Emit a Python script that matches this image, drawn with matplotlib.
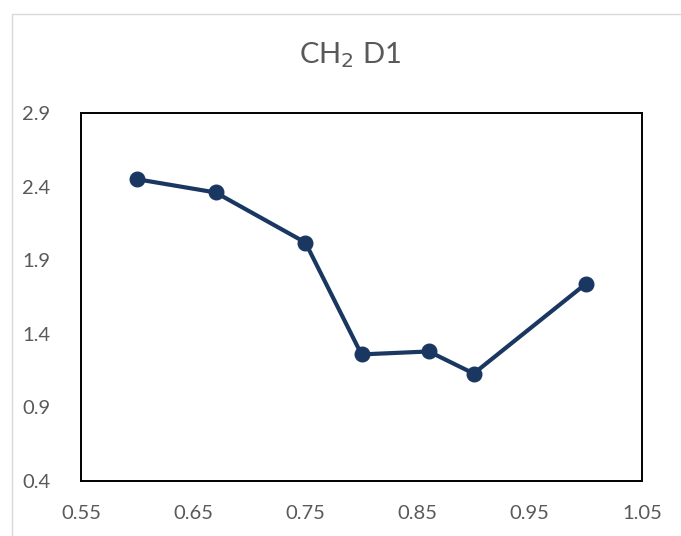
import matplotlib
matplotlib.use("Agg")
import matplotlib.pyplot as plt
from matplotlib.patches import Rectangle

# Series values
x_vals = [0.60, 0.67, 0.75, 0.80, 0.86, 0.90, 1.00]
y_vals = [2.45, 2.36, 2.02, 1.26, 1.28, 1.13, 1.74]

x_ticks = [0.55, 0.65, 0.75, 0.85, 0.95, 1.05]
y_ticks = [0.4, 0.9, 1.4, 1.9, 2.4, 2.9]

plt.rcParams['font.family'] = ['Lato', 'DejaVu Sans']

W, H = 681, 536
fig = plt.figure(figsize=(W / 100, H / 100), dpi=100)

# light chart-area border
fig.patches.append(Rectangle((12 / W, -0.1), 1.2, 1.1 - 14 / H,
                             transform=fig.transFigure, fill=False,
                             edgecolor='#d9d9d9', linewidth=1.0))

ax = fig.add_axes([81 / W, (H - 481) / H, (642 - 81) / W, (481 - 113) / H])

ax.plot(x_vals, y_vals, color='#1a3761', linewidth=3.0,
        marker='o', markersize=10.5, markerfacecolor='#1a3761',
        markeredgecolor='#1a3761', solid_joinstyle='round')

ax.set_xlim(0.55, 1.05)
ax.set_ylim(0.4, 2.9)
ax.set_xticks(x_ticks)
ax.set_yticks(y_ticks)
ax.set_xticklabels([f"{v:.2f}" for v in x_ticks])
ax.set_yticklabels([f"{v:.1f}" for v in y_ticks])
ax.tick_params(length=0, labelsize=14.5, colors='#595959')
ax.tick_params(axis='y', pad=22)
ax.tick_params(axis='x', pad=17)
for s in ax.spines.values():
    s.set_color('black')
    s.set_linewidth(1.4)

fig.text(350 / W, 1 - 55 / H, r"CH$_2$ D1", ha='center', va='center',
         fontsize=21, color='#595959')

fig.savefig("out.png", dpi=100)
